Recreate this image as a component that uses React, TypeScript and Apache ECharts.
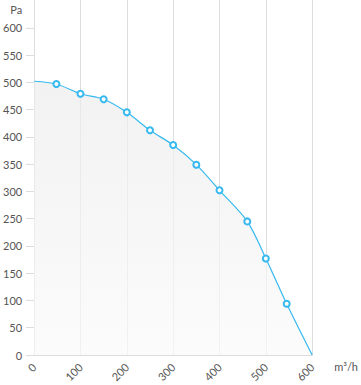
import React, { useEffect, useRef } from "react";
import * as echarts from "echarts";

const flow = [0, 48, 100, 150, 200, 250, 300, 350, 400, 460, 500, 545, 600];
const pressure = [502, 497, 479, 469, 445, 412, 385, 349, 302, 245, 177, 94, 0];
const xTicks = { min: 0, max: 600, interval: 100 };
const yTickValues = [0, 50, 100, 150, 200, 250, 300, 350, 400, 450, 500, 550, 600];
const yMax = 651;

export default function App() {
  const ref = useRef<HTMLDivElement>(null);
  useEffect(() => {
    const chart = echarts.init(ref.current!, null, { renderer: "svg" });
    const data = flow.map((x, i) => ({
      value: [x, pressure[i]],
      symbol: i === 0 || i === flow.length - 1 ? "none" : "emptyCircle",
    }));
    chart.setOption({
      animation: false,
      textStyle: { fontFamily: "Lato" },
      grid: { left: 31, right: 45, top: 0, bottom: 30, containLabel: false },
      xAxis: {
        type: "value",
        min: xTicks.min,
        max: xTicks.max,
        interval: xTicks.interval,
        name: "m³/h",
        nameLocation: "end",
        nameGap: 22,
        nameTextStyle: { color: "#555", fontSize: 11, verticalAlign: "top", padding: [6, 0, 0, 0] },
        axisLine: { show: true, lineStyle: { color: "#ddd" } },
        axisTick: { show: false },
        axisLabel: { rotate: 45, color: "#555", fontSize: 11, margin: 10 },
        splitLine: { show: true, lineStyle: { color: "#ddd" } },
      },
      yAxis: {
        type: "value",
        min: 0,
        max: yMax,
        name: "Pa",
        nameLocation: "end",
        nameGap: -9,
        nameTextStyle: { color: "#555", fontSize: 11, align: "right", verticalAlign: "middle", padding: [0, 12, 0, 0] },
        axisLine: { show: false },
        axisTick: { show: true, length: 8, customValues: yTickValues, lineStyle: { color: "#ddd" } },
        axisLabel: { color: "#555", fontSize: 11, margin: 12, customValues: yTickValues },
        splitLine: { show: false },
      },
      series: [
        {
          type: "line",
          smooth: 0.3,
          data,
          symbolSize: 6,
          lineStyle: { color: "#36b9ef", width: 1.2 },
          itemStyle: { color: "#36b9ef", borderWidth: 1.2 },
          areaStyle: {
            color: new echarts.graphic.LinearGradient(0, 0, 0, 1, [
              { offset: 0, color: "#ececec" },
              { offset: 1, color: "#fafafa" },
            ]),
          },
        },
      ],
    });
    return () => chart.dispose();
  }, []);
  return <div ref={ref} style={{ width: 361, height: 385, position: "absolute", left: 0, top: 0 }} />;
}
